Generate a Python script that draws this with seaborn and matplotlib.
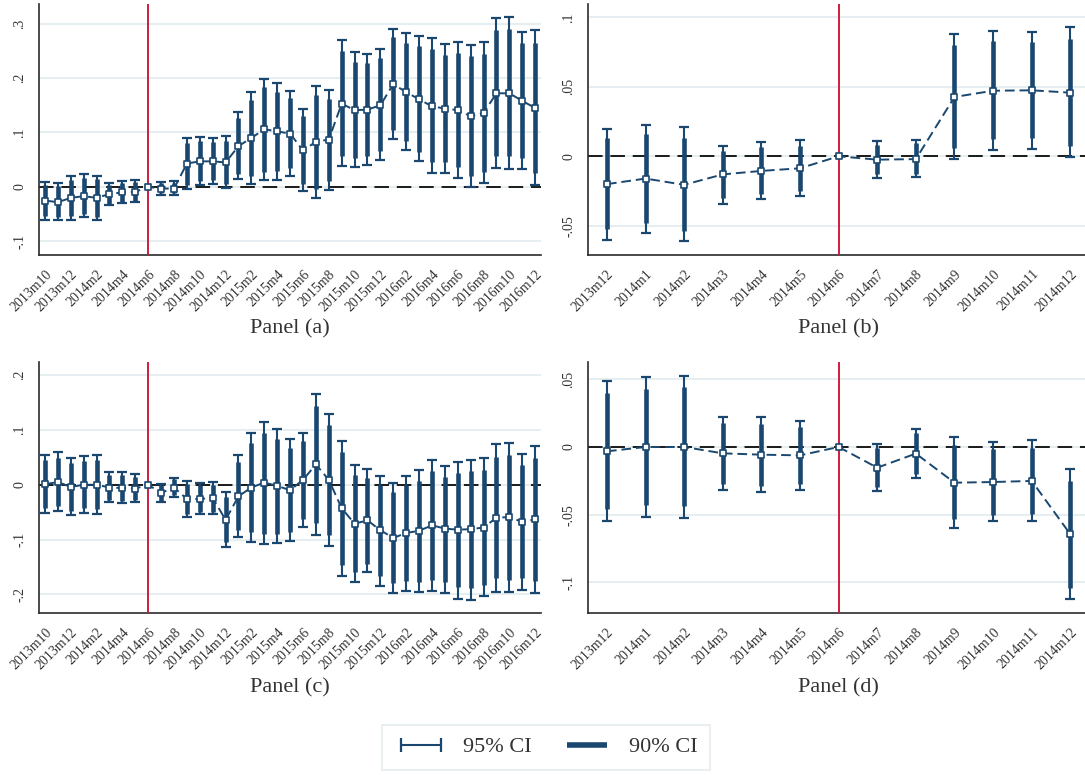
import numpy as np
import pandas as pd
import matplotlib
matplotlib.use("Agg")
import matplotlib.pyplot as plt
from matplotlib.lines import Line2D
import seaborn as sns

# ---------------------------------------------------------------------------
# Month labels
# ---------------------------------------------------------------------------
months_long = [
    "2013m10", "2013m11", "2013m12", "2014m1", "2014m2", "2014m3", "2014m4",
    "2014m5", "2014m6", "2014m7", "2014m8", "2014m9", "2014m10", "2014m11",
    "2014m12", "2015m1", "2015m2", "2015m3", "2015m4", "2015m5", "2015m6",
    "2015m7", "2015m8", "2015m9", "2015m10", "2015m11", "2015m12", "2016m1",
    "2016m2", "2016m3", "2016m4", "2016m5", "2016m6", "2016m7", "2016m8",
    "2016m9", "2016m10", "2016m11", "2016m12",
]
months_short = [
    "2013m12", "2014m1", "2014m2", "2014m3", "2014m4", "2014m5", "2014m6",
    "2014m7", "2014m8", "2014m9", "2014m10", "2014m11", "2014m12",
]
event_month = "2014m6"
nan = np.nan

# ---------------------------------------------------------------------------
# Panel (a)
# ---------------------------------------------------------------------------
coef_a = [-0.025, -0.028, -0.020, -0.017, -0.020, -0.013, -0.010, -0.009, 0.0,
          -0.003, -0.003, 0.043, 0.047, 0.047, 0.045, 0.075, 0.090, 0.106,
          0.102, 0.098, 0.067, 0.083, 0.087, 0.153, 0.141, 0.142, 0.150,
          0.189, 0.174, 0.161, 0.148, 0.144, 0.141, 0.130, 0.136, 0.172,
          0.172, 0.158, 0.145]
lo95_a = [-0.060, -0.060, -0.060, -0.055, -0.061, -0.034, -0.030, -0.028, nan,
          -0.014, -0.014, -0.003, 0.003, 0.005, -0.002, 0.014, 0.006, 0.012,
          0.013, 0.021, -0.007, -0.020, -0.005, 0.039, 0.036, 0.040, 0.050,
          0.088, 0.067, 0.047, 0.026, 0.026, 0.017, 0.000, 0.008, 0.035,
          0.033, 0.033, 0.003]
hi95_a = [0.009, 0.007, 0.020, 0.023, 0.021, 0.007, 0.010, 0.012, nan,
          0.009, 0.010, 0.089, 0.091, 0.090, 0.093, 0.137, 0.174, 0.198,
          0.190, 0.177, 0.143, 0.186, 0.178, 0.269, 0.247, 0.244, 0.253,
          0.291, 0.282, 0.277, 0.273, 0.262, 0.266, 0.261, 0.266, 0.310,
          0.313, 0.284, 0.288]
lo90_a = [-0.054, -0.055, -0.053, -0.049, -0.055, -0.031, -0.027, -0.025, nan,
          -0.012, -0.012, 0.004, 0.010, 0.012, 0.006, 0.024, 0.020, 0.028,
          0.029, 0.034, 0.005, -0.003, 0.010, 0.057, 0.053, 0.056, 0.066,
          0.104, 0.084, 0.065, 0.046, 0.045, 0.036, 0.021, 0.028, 0.057,
          0.056, 0.053, 0.026]
hi90_a = [0.004, 0.002, 0.013, 0.016, 0.014, 0.004, 0.007, 0.009, nan,
          0.007, 0.008, 0.081, 0.084, 0.083, 0.085, 0.127, 0.160, 0.183,
          0.175, 0.163, 0.130, 0.168, 0.162, 0.250, 0.229, 0.228, 0.237,
          0.275, 0.264, 0.259, 0.253, 0.243, 0.246, 0.240, 0.245, 0.288,
          0.291, 0.264, 0.265]

# ---------------------------------------------------------------------------
# Panel (b)
# ---------------------------------------------------------------------------
coef_b = [-0.0200, -0.0160, -0.0205, -0.0130, -0.0105, -0.0086, 0.0,
          -0.0024, -0.0020, 0.0427, 0.0472, 0.0475, 0.0458]
lo95_b = [-0.0600, -0.0550, -0.0610, -0.0340, -0.0310, -0.0285, nan,
          -0.0156, -0.0150, -0.0020, 0.0046, 0.0055, -0.0002]
hi95_b = [0.0200, 0.0225, 0.0210, 0.0077, 0.0103, 0.0118, nan,
          0.0108, 0.0117, 0.0880, 0.0904, 0.0894, 0.0928]
lo90_b = [-0.0525, -0.0480, -0.0540, -0.0300, -0.0270, -0.0250, nan,
          -0.0127, -0.0127, 0.0058, 0.0122, 0.0132, 0.0074]
hi90_b = [0.0130, 0.0160, 0.0134, 0.0040, 0.0065, 0.0077, nan,
          0.0080, 0.0094, 0.0800, 0.0827, 0.0820, 0.0844]

# ---------------------------------------------------------------------------
# Panel (c)
# ---------------------------------------------------------------------------
coef_c = [0.001, 0.005, -0.004, 0.000, 0.000, -0.005, -0.006, -0.007, 0.0,
          -0.015, -0.005, -0.026, -0.026, -0.024, -0.064, -0.021, -0.005,
          0.004, -0.002, -0.010, 0.009, 0.037, 0.009, -0.043, -0.071, -0.065,
          -0.083, -0.097, -0.088, -0.084, -0.074, -0.080, -0.082, -0.081,
          -0.078, -0.060, -0.059, -0.068, -0.063]
lo95_c = [-0.051, -0.048, -0.056, -0.052, -0.053, -0.032, -0.034, -0.031, nan,
          -0.032, -0.022, -0.059, -0.054, -0.054, -0.113, -0.095, -0.104,
          -0.108, -0.107, -0.102, -0.077, -0.091, -0.112, -0.166, -0.177,
          -0.160, -0.184, -0.198, -0.193, -0.196, -0.194, -0.197, -0.209,
          -0.210, -0.203, -0.195, -0.195, -0.192, -0.198]
hi95_c = [0.055, 0.059, 0.049, 0.052, 0.054, 0.023, 0.023, 0.020, nan,
          0.002, 0.013, 0.007, 0.004, 0.005, -0.014, 0.054, 0.094, 0.115,
          0.102, 0.084, 0.095, 0.165, 0.129, 0.080, 0.036, 0.029, 0.016,
          0.004, 0.016, 0.027, 0.045, 0.034, 0.042, 0.046, 0.048, 0.074,
          0.077, 0.057, 0.071]
lo90_c = [-0.042, -0.038, -0.047, -0.043, -0.044, -0.027, -0.029, -0.027, nan,
          -0.029, -0.019, -0.054, -0.050, -0.049, -0.104, -0.082, -0.087,
          -0.089, -0.089, -0.086, -0.062, -0.069, -0.092, -0.146, -0.159,
          -0.144, -0.166, -0.180, -0.176, -0.177, -0.174, -0.177, -0.187,
          -0.188, -0.182, -0.171, -0.173, -0.170, -0.176]
hi90_c = [0.045, 0.049, 0.040, 0.043, 0.045, 0.018, 0.018, 0.015, nan,
          -0.001, 0.010, 0.002, -0.001, 0.000, -0.023, 0.041, 0.077, 0.095,
          0.084, 0.067, 0.080, 0.143, 0.109, 0.059, 0.018, 0.013, -0.001,
          -0.013, -0.001, 0.007, 0.025, 0.015, 0.021, 0.025, 0.027, 0.051,
          0.054, 0.036, 0.048]

# ---------------------------------------------------------------------------
# Panel (d)
# ---------------------------------------------------------------------------
coef_d = [-0.0032, 0.0000, 0.0000, -0.0047, -0.0057, -0.0062, 0.0,
          -0.0153, -0.0049, -0.0264, -0.0259, -0.0251, -0.0645]
lo95_d = [-0.0550, -0.0517, -0.0525, -0.0315, -0.0330, -0.0315, nan,
          -0.0325, -0.0232, -0.0596, -0.0550, -0.0547, -0.1126]
hi95_d = [0.0490, 0.0517, 0.0527, 0.0224, 0.0224, 0.0190, nan,
          0.0020, 0.0135, 0.0074, 0.0034, 0.0049, -0.0165]
lo90_d = [-0.0460, -0.0430, -0.0436, -0.0270, -0.0288, -0.0276, nan,
          -0.0298, -0.0200, -0.0534, -0.0500, -0.0493, -0.1040]
hi90_d = [0.0400, 0.0430, 0.0440, 0.0177, 0.0172, 0.0145, nan,
          -0.0007, 0.0103, 0.0012, -0.0017, -0.0005, -0.0251]

# ---------------------------------------------------------------------------
# Style
# ---------------------------------------------------------------------------
NAVY = "#1a476f"
RED = "#d01c3f"
GRID = "#e6eef1"
AXIS = "#2b2b2b"
TEXT = "#333333"

sns.set_theme(style="white")
plt.rcParams["font.family"] = ["Liberation Serif", "DejaVu Serif"]

fig = plt.figure(figsize=(10.85, 7.75), dpi=100)
W, H = 1085.0, 775.0


def px_axes(left, top, right, bottom):
    return fig.add_axes([left / W, 1 - bottom / H, (right - left) / W, (bottom - top) / H])


def draw_panel(ax, months, coef, lo95, hi95, lo90, hi90,
               yticks, ylabels, ylim, xlim, label_step):
    df = pd.DataFrame({
        "pos": np.arange(len(months)), "month": months, "coef": coef,
        "lo95": lo95, "hi95": hi95, "lo90": lo90, "hi90": hi90,
    })
    ci = df.dropna()

    for y in yticks:
        ax.axhline(y, color=GRID, lw=1.5, zorder=0)
    ax.axhline(0, color="#1a1a1a", lw=1.4, ls=(0, (7.5, 4)), zorder=1)

    # 95% interval with caps, then the thicker 90% interval
    ax.vlines(ci["pos"], ci["lo95"], ci["hi95"], color=NAVY, lw=1.5, zorder=2)
    ax.plot(ci["pos"], ci["lo95"], ls="none", marker="_", ms=7.5, mew=1.6,
            color=NAVY, zorder=2)
    ax.plot(ci["pos"], ci["hi95"], ls="none", marker="_", ms=7.5, mew=1.6,
            color=NAVY, zorder=2)
    ax.vlines(ci["pos"], ci["lo90"], ci["hi90"], color=NAVY, lw=3.3, zorder=2)

    sns.lineplot(data=df, x="pos", y="coef", ax=ax, color=NAVY, lw=1.4,
                 linestyle=(0, (5, 2.5)), zorder=3)
    ev = months.index(event_month)
    ax.axvline(ev, color=RED, lw=1.4, zorder=4)
    sns.scatterplot(data=df, x="pos", y="coef", ax=ax, marker="s", s=16,
                    facecolor="white", edgecolor=NAVY, linewidth=1.2, zorder=5)

    ax.set_xlim(*xlim)
    ax.set_ylim(*ylim)
    ax.set_xlabel("")
    ax.set_ylabel("")
    ax.set_xticks(df["pos"])
    ax.set_xticklabels([m if i % label_step == 0 else "" for i, m in enumerate(months)],
                       rotation=45, ha="right", rotation_mode="anchor")
    ax.set_yticks(yticks)
    ax.set_yticklabels(ylabels, rotation=90, va="center")
    ax.tick_params(axis="both", direction="out", length=6, width=1.2,
                   color=AXIS, labelsize=10, labelcolor=TEXT, pad=3)
    for side in ("top", "right"):
        ax.spines[side].set_visible(False)
    for side in ("left", "bottom"):
        ax.spines[side].set_color(AXIS)
        ax.spines[side].set_linewidth(1.2)
    ax.set_facecolor("white")


ax_a = px_axes(39, 4, 541, 255)
draw_panel(ax_a, months_long, coef_a, lo95_a, hi95_a, lo90_a, hi90_a,
           [-0.1, 0, 0.1, 0.2, 0.3], ["-.1", "0", ".1", ".2", ".3"],
           (-0.125, 0.336), (-0.465, 38.45), 2)

ax_b = px_axes(588, 4, 1085, 255)
draw_panel(ax_b, months_short, coef_b, lo95_b, hi95_b, lo90_b, hi90_b,
           [-0.05, 0, 0.05, 0.1], ["-.05", "0", ".05", ".1"],
           (-0.071, 0.1096), (-0.49, 12.38), 1)

ax_c = px_axes(39, 362, 541, 613)
draw_panel(ax_c, months_long, coef_c, lo95_c, hi95_c, lo90_c, hi90_c,
           [-0.2, -0.1, 0, 0.1, 0.2], ["-.2", "-.1", "0", ".1", ".2"],
           (-0.234, 0.224), (-0.465, 38.45), 2)

ax_d = px_axes(588, 362, 1085, 613)
draw_panel(ax_d, months_short, coef_d, lo95_d, hi95_d, lo90_d, hi90_d,
           [-0.1, -0.05, 0, 0.05], ["-.1", "-.05", "0", ".05"],
           (-0.1227, 0.0628), (-0.49, 12.38), 1)

for label, cx, cy in [("Panel (a)", 290, 329), ("Panel (b)", 838, 329),
                      ("Panel (c)", 290, 688), ("Panel (d)", 838, 688)]:
    fig.text(cx / W, 1 - cy / H, label, ha="center", va="center",
             fontsize=16, color=TEXT)

handles = [
    Line2D([], [], color=NAVY, lw=1.5, marker="|", ms=10, mew=1.6,
           solid_capstyle="butt"),
    Line2D([], [], color=NAVY, lw=4.0, solid_capstyle="butt"),
]
leg = fig.legend(handles, ["95% CI", "90% CI"], loc="center",
                 bbox_to_anchor=(546 / W, 1 - 747 / H), ncol=2, numpoints=2,
                 fontsize=16, handlelength=2.4, handletextpad=0.7,
                 columnspacing=1.3, borderpad=0.55, frameon=True,
                 fancybox=False, edgecolor="#dfe7eb")
leg.get_frame().set_linewidth(1.2)
for t in leg.get_texts():
    t.set_color(TEXT)

fig.savefig("out.png", dpi=100, facecolor="white")
